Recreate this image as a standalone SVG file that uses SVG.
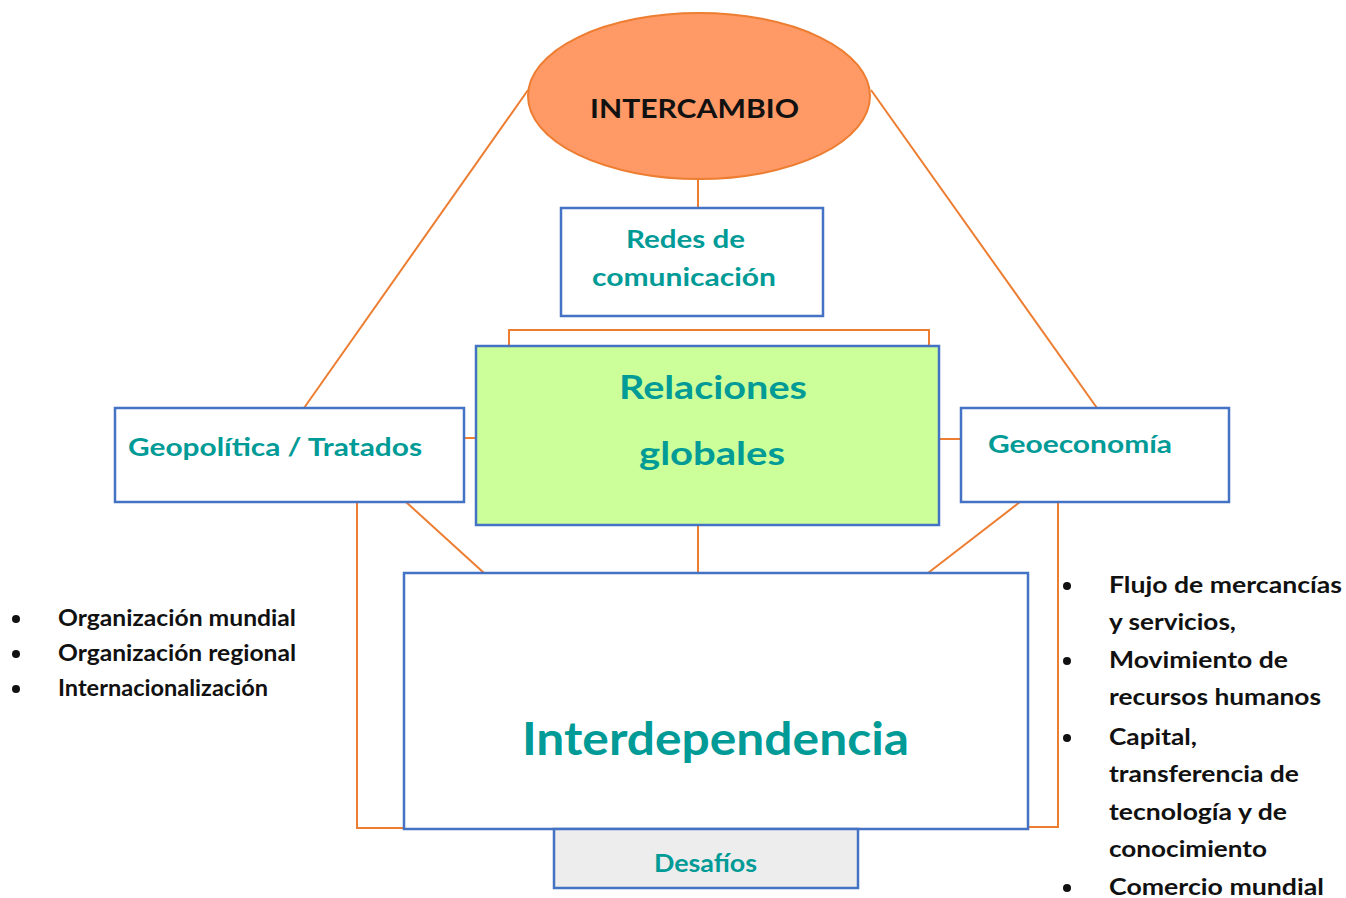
<svg xmlns="http://www.w3.org/2000/svg" width="1346" height="898" viewBox="0 0 1346 898">
<style>
.c{stroke:#ED7D31;stroke-width:2;fill:none}
.b{stroke:#4472C4;stroke-width:2.5;fill:#FFFFFF}
.t{font-family:Lato,"Open Sans",sans-serif;font-weight:bold;fill:#009B96}
.k{font-family:Lato,"Open Sans",sans-serif;font-weight:bold;fill:#111111;font-size:22px}
</style>
<rect width="1346" height="898" fill="#FFFFFF"/>
<g id="connectors">
<line class="c" x1="698" y1="180" x2="698" y2="208"/>
<polyline class="c" points="509,346 509,330 929,330 929,346"/>
<line class="c" x1="528" y1="90" x2="304" y2="408"/>
<line class="c" x1="871" y1="90" x2="1097" y2="408"/>
<line class="c" x1="464" y1="438" x2="476" y2="438"/>
<line class="c" x1="939" y1="439" x2="961" y2="439"/>
<line class="c" x1="406" y1="502" x2="484" y2="573"/>
<line class="c" x1="1020" y1="502" x2="928" y2="573"/>
<line class="c" x1="698" y1="525" x2="698" y2="573"/>
<polyline class="c" points="357,502 357,828 404,828"/>
<polyline class="c" points="1058,502 1058,827 1028,827"/>
</g>
<g id="intercambio">
<ellipse cx="699" cy="96" rx="171" ry="83" fill="#FF9966" stroke="#ED7D31" stroke-width="2"/>
<text x="590" y="118" textLength="209" lengthAdjust="spacingAndGlyphs" style="font-family:Lato,'Open Sans',sans-serif;font-weight:bold;font-size:27px;fill:#111111">INTERCAMBIO</text>
</g>
<g id="redes">
<rect class="b" x="561" y="208" width="262" height="108"/>
<text class="t" x="626" y="248" font-size="25" textLength="119" lengthAdjust="spacingAndGlyphs">Redes de</text>
<text class="t" x="592" y="286" font-size="25" textLength="184" lengthAdjust="spacingAndGlyphs">comunicación</text>
</g>
<g id="relaciones">
<rect class="b" x="476" y="346" width="463" height="179" style="fill:#CCFF99"/>
<text class="t" x="619" y="399" font-size="33" textLength="188" lengthAdjust="spacingAndGlyphs">Relaciones</text>
<text class="t" x="639" y="465" font-size="33" textLength="146" lengthAdjust="spacingAndGlyphs">globales</text>
</g>
<g id="geopolitica">
<rect class="b" x="115" y="408" width="349" height="94"/>
<text class="t" x="128" y="456" font-size="25" textLength="294" lengthAdjust="spacingAndGlyphs">Geopolítica / Tratados</text>
</g>
<g id="geoeconomia">
<rect class="b" x="961" y="408" width="268" height="94"/>
<text class="t" x="988" y="453" font-size="25" textLength="184" lengthAdjust="spacingAndGlyphs">Geoeconomía</text>
</g>
<g id="interdependencia">
<rect class="b" x="404" y="573" width="624" height="256"/>
<text class="t" x="522" y="755" font-size="45" textLength="387" lengthAdjust="spacingAndGlyphs">Interdependencia</text>
</g>
<g id="desafios">
<rect class="b" x="554" y="829" width="304" height="59" style="fill:#EDEDED"/>
<text class="t" x="654" y="872" font-size="24" textLength="103" lengthAdjust="spacingAndGlyphs">Desafíos</text>
</g>
<g id="lista-izquierda">
<circle cx="16" cy="619" r="4" fill="#111111"/>
<circle cx="16" cy="654" r="4" fill="#111111"/>
<circle cx="16" cy="689" r="4" fill="#111111"/>
<text class="k" x="58" y="626" textLength="238" lengthAdjust="spacingAndGlyphs">Organización mundial</text>
<text class="k" x="58" y="661" textLength="238" lengthAdjust="spacingAndGlyphs">Organización regional</text>
<text class="k" x="58" y="696" textLength="210" lengthAdjust="spacingAndGlyphs">Internacionalización</text>
</g>
<g id="lista-derecha">
<circle cx="1067" cy="586" r="4" fill="#111111"/>
<circle cx="1067" cy="661" r="4" fill="#111111"/>
<circle cx="1067" cy="738" r="4" fill="#111111"/>
<circle cx="1067" cy="888" r="4" fill="#111111"/>
<text class="k" x="1109" y="593" textLength="233" lengthAdjust="spacingAndGlyphs">Flujo de mercancías</text>
<text class="k" x="1109" y="630" textLength="127" lengthAdjust="spacingAndGlyphs">y servicios,</text>
<text class="k" x="1109" y="668" textLength="179" lengthAdjust="spacingAndGlyphs">Movimiento de</text>
<text class="k" x="1109" y="705" textLength="212" lengthAdjust="spacingAndGlyphs">recursos humanos</text>
<text class="k" x="1109" y="745" textLength="88" lengthAdjust="spacingAndGlyphs">Capital,</text>
<text class="k" x="1109" y="782" textLength="190" lengthAdjust="spacingAndGlyphs">transferencia de</text>
<text class="k" x="1109" y="820" textLength="178" lengthAdjust="spacingAndGlyphs">tecnología y de</text>
<text class="k" x="1109" y="857" textLength="158" lengthAdjust="spacingAndGlyphs">conocimiento</text>
<text class="k" x="1109" y="895" textLength="215" lengthAdjust="spacingAndGlyphs">Comercio mundial</text>
</g>
</svg>
